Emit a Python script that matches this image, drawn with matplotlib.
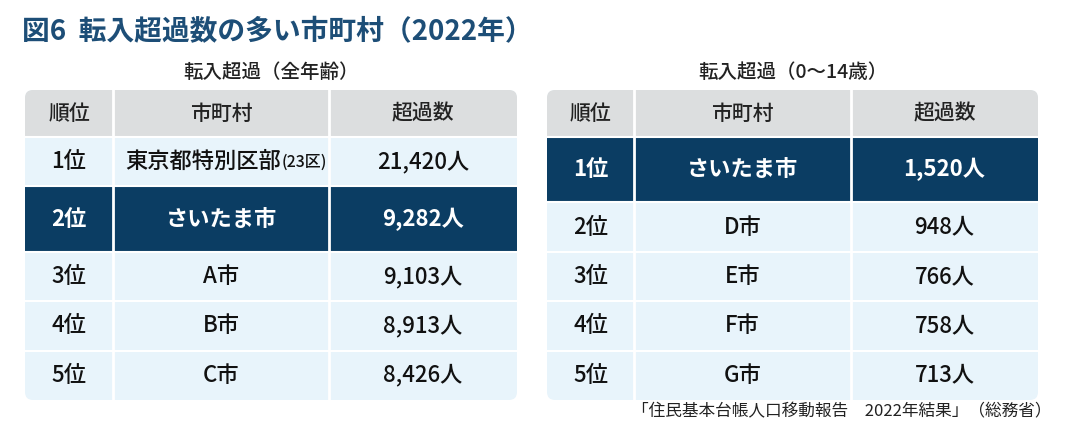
import matplotlib.pyplot as plt
from matplotlib.patches import FancyBboxPatch, Rectangle

plt.rcParams['font.family'] = 'Noto Sans CJK JP'

TITLE = '図6  転入超過数の多い市町村（2022年）'
SOURCE = '「住民基本台帳人口移動報告　2022年結果」（総務省）'
HEADERS = ['順位', '市町村', '超過数']

left_title = '転入超過（全年齢）'
left_ranks = ['1位', '2位', '3位', '4位', '5位']
left_cities = ['東京都特別区部', 'さいたま市', 'A市', 'B市', 'C市']
left_values = [21420, 9282, 9103, 8913, 8426]
left_highlight = 1

right_title = '転入超過（0〜14歳）'
right_ranks = ['1位', '2位', '3位', '4位', '5位']
right_cities = ['さいたま市', 'D市', 'E市', 'F市', 'G市']
right_values = [1520, 948, 766, 758, 713]
right_highlight = 0

NAVY = '#0b3d63'
HEAD = '#dcdedf'
ROW = '#e8f4fb'

fig = plt.figure(figsize=(10.8, 4.48), dpi=100)
ax = fig.add_axes([0, 0, 1, 1])
ax.set_xlim(0, 1080)
ax.set_ylim(448, 0)
ax.axis('off')

ax.text(22, 32, TITLE, fontsize=20, fontweight='bold', color='#1d4e77', va='center')
ax.text(1052, 412, SOURCE, fontsize=12, color='#222222', va='center', ha='right')


def draw_table(x0, x1, cols, title, ranks, cities, values, hl, suffix_first=None):
    top, head_bot, bottom = 90, 137, 400
    ax.text((x0 + x1) / 2, 72, title, fontsize=14, fontweight='medium',
            ha='center', va='center', color='#222222')
    ax.add_patch(FancyBboxPatch((x0, top), x1 - x0, bottom - top,
                                boxstyle='round,pad=0,rounding_size=8',
                                fc=ROW, ec='none', zorder=0))
    # row boundaries: highlighted row taller
    n = len(ranks)
    hts = [49 if i != hl else 65 for i in range(n)]
    scale = (bottom - head_bot) / sum(hts)
    ys = [head_bot]
    for h in hts:
        ys.append(ys[-1] + h * scale)
    ax.add_patch(FancyBboxPatch((x0, top), x1 - x0, head_bot - top,
                                boxstyle='round,pad=0,rounding_size=8',
                                fc=HEAD, ec='none', zorder=1))
    ax.add_patch(Rectangle((x0, top + 20), x1 - x0, head_bot - top - 20, fc=HEAD, ec='none', zorder=1))
    xs = [x0] + cols + [x1]
    for j, h in enumerate(HEADERS):
        ax.text((xs[j] + xs[j + 1]) / 2, (top + head_bot) / 2, h, fontsize=15,
                fontweight='medium', ha='center', va='center', color='#222222', zorder=4)
    for i in range(n):
        y0, y1 = ys[i], ys[i + 1]
        if i == hl:
            ax.add_patch(Rectangle((x0, y0), x1 - x0, y1 - y0, fc=NAVY, ec='none', zorder=2))
        color = 'white' if i == hl else '#111111'
        weight = 'bold' if i == hl else 'medium'
        ym = (y0 + y1) / 2
        ax.text((xs[0] + xs[1]) / 2, ym, ranks[i], fontsize=16, ha='center', va='center',
                color=color, fontweight=weight, zorder=4)
        cx = (xs[1] + xs[2]) / 2
        if suffix_first and i == 0:
            ax.text(cx + 60, ym, cities[i], fontsize=16, ha='right', va='center',
                    color=color, fontweight=weight, zorder=4)
            ax.text(cx + 61, ym + 1, suffix_first, fontsize=11.5, ha='left', va='center',
                    color=color, fontweight=weight, zorder=4)
        else:
            ax.text(cx, ym, cities[i], fontsize=16, ha='center', va='center',
                    color=color, fontweight=weight, zorder=4)
        ax.text((xs[2] + xs[3]) / 2, ym, f'{values[i]:,}人', fontsize=16, ha='center',
                va='center', color=color, fontweight=weight, zorder=4)
        if i > 0:
            ax.plot([x0, x1], [y0, y0], color='white', lw=1.5, zorder=3)
    ax.plot([x0, x1], [head_bot, head_bot], color='white', lw=1.5, zorder=3)
    for c in cols:
        ax.plot([c, c], [top, bottom], color='white', lw=2, zorder=3)


draw_table(25, 517, [113, 329], left_title, left_ranks, left_cities, left_values,
           left_highlight, suffix_first='(23区)')
draw_table(547, 1038, [634, 851], right_title, right_ranks, right_cities, right_values,
           right_highlight)

fig.savefig('out.png', dpi=100)
